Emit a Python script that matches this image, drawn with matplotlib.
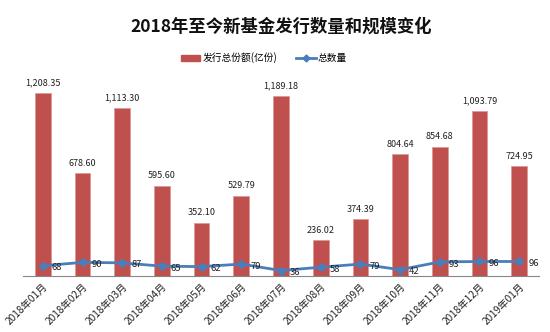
import matplotlib
matplotlib.use("Agg")
import matplotlib.pyplot as plt
from matplotlib.lines import Line2D
from matplotlib.patches import Patch

plt.rcParams['font.family'] = ['Noto Sans CJK SC', 'DejaVu Sans']

months = ["2018年01月", "2018年02月", "2018年03月", "2018年04月", "2018年05月",
          "2018年06月", "2018年07月", "2018年08月", "2018年09月", "2018年10月",
          "2018年11月", "2018年12月", "2019年01月"]
amount = [1208.35, 678.60, 1113.30, 595.60, 352.10, 529.79, 1189.18,
          236.02, 374.39, 804.64, 854.68, 1093.79, 724.95]
count = [68, 90, 87, 65, 62, 79, 36, 58, 79, 42, 93, 96, 96]

title = "2018年至今新基金发行数量和规模变化"
bar_name = "发行总份额(亿份)"
line_name = "总数量"

bar_color = "#C0504D"
line_color = "#4A7EBB"

fig = plt.figure(figsize=(5.5, 3.32), dpi=100)
ax = fig.add_axes([23/550, 56/332, 516/550, 196.6/332])

x = list(range(len(months)))
ax.bar(x, amount, width=0.395, color=bar_color, edgecolor="#D99795", linewidth=0.5, zorder=2)
ax.plot(x, count, color=line_color, linewidth=2, marker="D", markersize=4.5,
        markerfacecolor=line_color, markeredgecolor=line_color, zorder=3)

for xi, v in zip(x, amount):
    ax.annotate(f"{v:,.2f}", (xi, v), xytext=(0, 4), textcoords="offset points",
                ha="center", va="bottom", fontsize=6.5, color="#222222")
for xi, v in zip(x, count):
    ax.annotate(f"{v}", (xi, v), xytext=(6.5, -1.5), textcoords="offset points",
                ha="left", va="center", fontsize=6.8, color="#222222", zorder=4)

ax.set_xlim(-0.5, len(months) - 0.5)
ax.set_ylim(0, 1300)
ax.set_yticks([])
ax.set_xticks(x)
ax.set_xticklabels(months, rotation=45, ha="right", va="top", rotation_mode="anchor",
                   fontsize=7.3, color="#222222")
ax.tick_params(axis="x", length=0, pad=4)
for s in ["top", "right", "left"]:
    ax.spines[s].set_visible(False)
ax.spines["bottom"].set_color("#868686")
ax.spines["bottom"].set_linewidth(0.8)

fig.text(281/550, 1 - 27/332, title, ha="center", va="center", fontsize=12.5,
         fontweight="bold", color="#111111")

handles = [Patch(facecolor=bar_color, edgecolor=bar_color),
           Line2D([0], [0], color=line_color, linewidth=2, marker="D", markersize=3.5)]
fig.legend(handles, [bar_name, line_name], loc="center", bbox_to_anchor=(264/550, 1 - 58/332),
           ncol=2, frameon=False, fontsize=7, handlelength=2.0, handleheight=0.5,
           handletextpad=0.2, columnspacing=2.0)

fig.savefig("out.png", dpi=100)
